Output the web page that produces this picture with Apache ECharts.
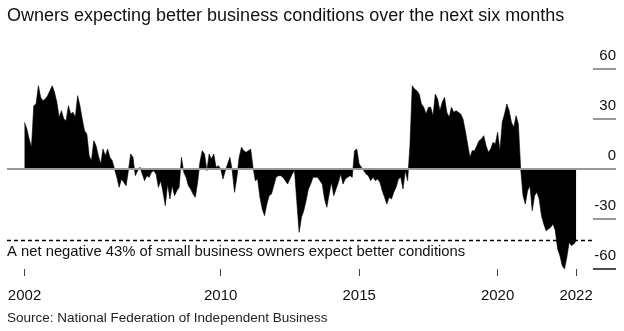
<!DOCTYPE html>
<html><head><meta charset="utf-8">
<script src="https://cdn.jsdelivr.net/npm/echarts/dist/echarts.min.js"></script>
<style>html,body{margin:0;padding:0;background:#fff}#c{width:624px;height:331px}</style>
</head><body><div id="c"></div>
<script>
// Monthly series, Dec 2002 .. Nov 2022
const startYear = 2002, startMonth = 12;
const values = [
  28,24,18,13,38,39,50,43,41,42,44,47,
  50,46,40,31,35,30,29,38,33,34,31,44,
  38,30,23,21,8,5,17,14,8,3,12,8,
  12,7,5,0,-5,-11,-6,-8,-10,-1,9,7,
  -4,-1,1,-3,-7,-4,-5,-2,-1,-3,-11,-7,
  -14,-22,-9,-18,-10,-16,-13,-11,7,-2,-5,-10,
  -12,-15,-17,-8,4,11,9,-1,9,6,9,1,
  2,0,-6,-1,3,7,-1,-14,-5,7,13,11,
  10,11,12,1,-7,-6,-17,-24,-28,-21,-16,-15,
  -10,-5,-4,-4,-5,-7,-9,-6,-3,-1,-20,-38,
  -29,-25,-19,-12,-9,-5,-5,-5,-7,-9,-18,-23,
  -15,-8,-16,-12,-8,-3,-9,-6,-5,-4,-5,11,
  12,3,1,-1,-3,-4,-7,-5,-7,-6,-8,-13,
  -17,-21,-17,-18,-14,-11,-6,-5,-12,-1,-7,14,
  50,48,47,45,39,37,33,37,37,32,45,42,
  35,40,43,34,31,37,34,35,34,33,30,23,
  15,7,11,11,14,17,18,20,14,10,12,16,
  15,22,11,28,33,39,35,28,25,32,27,0,
  -16,-21,-13,-10,-25,-16,-14,-18,-28,-33,-37,-36,
  -35,-33,-37,-48,-52,-58,-60,-53,-44,-46,-45,-43
];
const months = values.map((v, i) => {
  const m0 = startMonth - 1 + i;
  const y = startYear + Math.floor(m0 / 12);
  const m = (m0 % 12) + 1;
  return y + '-' + String(m).padStart(2, '0');
});
const tickMonths = ['2002-12', '2010-01', '2015-01', '2020-01', '2022-11'];
const tickLabels = ['2002', '2010', '2015', '2020', '2022'];
const yTicks = [-60, -30, 0, 30, 60];
const latestValue = -43;
const titleText = 'Owners expecting better business conditions over the next six months';
const noteText = 'A net negative 43% of small business owners expect better conditions';
const sourceText = 'Source: National Federation of Independent Business';

const tickIdx = tickMonths.map(t => months.indexOf(t));
const labelMap = {};
tickIdx.forEach((ix, k) => labelMap[ix] = tickLabels[k]);
const FONT = '"Liberation Sans", Arial, Helvetica, sans-serif';
const xMin = -7.6, xMax = 256.3, dashEnd = 245.9, stubStart = 246.3;

const stubs = yTicks.filter(v => v !== 0).map(v => [
  {coord: [stubStart, v], lineStyle: {color: v === yTicks[0] ? '#111' : '#999', width: v === yTicks[0] ? 1.5 : 2, type: 'solid'}},
  {coord: [xMax, v]}
]);

const chart = echarts.init(document.getElementById('c'), null, {renderer: 'canvas'});
chart.setOption({
  animation: false,
  backgroundColor: '#fff',
  textStyle: {fontFamily: FONT},
  grid: {left: 7, right: 8, top: 69, bottom: 62, containLabel: false},
  graphic: [
    {type: 'text', left: 7, top: 7, style: {text: titleText, font: '18px ' + FONT, fill: '#111'}},
    {type: 'text', left: 7, top: 244, style: {text: noteText, font: '14.8px ' + FONT, fill: '#111'}},
    {type: 'text', left: 7, top: 311, style: {text: sourceText, font: '13.5px ' + FONT, fill: '#222'}}
  ],
  xAxis: {
    type: 'value', min: xMin, max: xMax,
    axisLine: {show: false, onZero: false}, splitLine: {show: false},
    axisTick: {show: true, customValues: tickIdx, length: 7, lineStyle: {color: '#444', width: 1}},
    axisLabel: {show: true, customValues: tickIdx, margin: 19, fontSize: 15, color: '#111', fontFamily: FONT,
      formatter: v => labelMap[Math.round(v)] || ''}
  },
  yAxis: {
    type: 'value', min: -60, max: 60, interval: 30, position: 'right',
    axisLine: {show: false}, splitLine: {show: false}, axisTick: {show: false},
    axisLabel: {show: true, inside: true, margin: 0, fontSize: 15, color: '#111', fontFamily: FONT,
      verticalAlign: 'bottom', padding: [0, 0, 6, 0]}
  },
  series: [{
    type: 'line', data: [], z: 1, silent: true,
    markLine: {silent: true, symbol: 'none', label: {show: false},
      lineStyle: {color: '#999', width: 2, type: 'solid'},
      data: [{yAxis: 0}].concat(stubs)}
  }, {
    type: 'line', z: 2,
    data: values.map((v, i) => [i, v]),
    showSymbol: false, symbol: 'none',
    lineStyle: {color: '#000', width: 0.6},
    areaStyle: {color: '#000', opacity: 1, origin: 0},
    markLine: {silent: true, symbol: 'none', label: {show: false},
      lineStyle: {color: '#000', width: 1.3, type: [4, 3]},
      data: [[{coord: [xMin, latestValue]}, {coord: [dashEnd, latestValue]}]]}
  }]
});
</script>
</body></html>
